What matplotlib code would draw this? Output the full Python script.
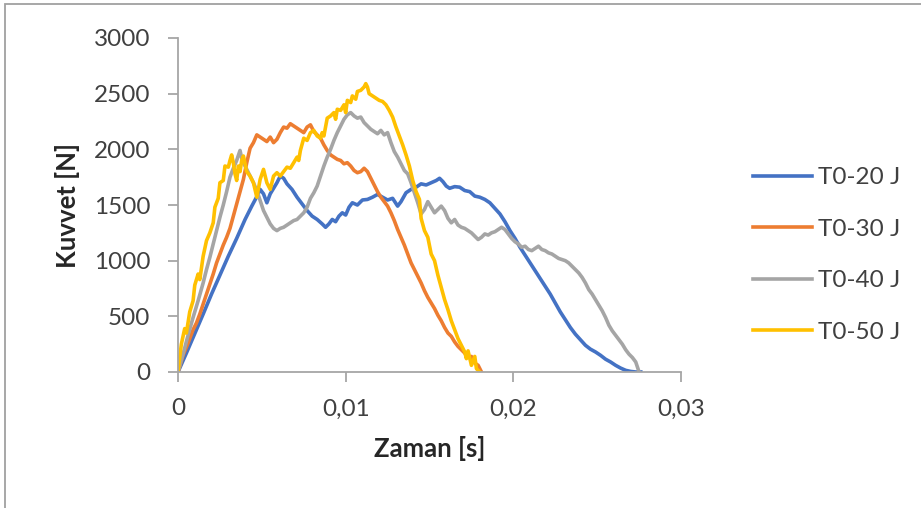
import matplotlib
matplotlib.use('Agg')
import matplotlib.pyplot as plt
from matplotlib.patches import Rectangle
from matplotlib.ticker import FuncFormatter

plt.rcParams['font.family'] = ['Lato', 'DejaVu Sans']

# T0-20 J
t20 = [0, 0.0005, 0.0010, 0.0015, 0.0020, 0.0025, 0.0030, 0.0035, 0.0040, 0.0044,
       0.0047, 0.0049, 0.0051, 0.0053, 0.0055, 0.0057, 0.0059, 0.0061, 0.0063, 0.0065,
       0.0068, 0.0071, 0.0074, 0.0077, 0.0080, 0.0083, 0.0086, 0.0088, 0.0090, 0.0092,
       0.0094, 0.0096, 0.0098, 0.0100, 0.0102, 0.0104, 0.0107, 0.0110, 0.0113, 0.0116,
       0.0119, 0.0122, 0.0125, 0.0128, 0.0131, 0.0133, 0.0136, 0.0139, 0.0142, 0.0145,
       0.0148, 0.0151, 0.0154, 0.0156, 0.0158, 0.0160, 0.0162, 0.0165, 0.0168, 0.0171,
       0.0174, 0.0177, 0.0180, 0.0183, 0.0186, 0.0189, 0.0192, 0.0195, 0.0198, 0.0201,
       0.0204, 0.0207, 0.0210, 0.0213, 0.0216, 0.0219, 0.0222, 0.0225, 0.0228, 0.0231,
       0.0234, 0.0237, 0.0240, 0.0243, 0.0246, 0.0249, 0.0252, 0.0255, 0.0258, 0.0261,
       0.0264, 0.0267, 0.0270, 0.0273, 0.0276]
f20 = [0, 170, 345, 520, 700, 870, 1040, 1200, 1370, 1490,
       1575, 1640, 1600, 1520, 1600, 1650, 1700, 1760, 1740, 1690,
       1640, 1570, 1510, 1450, 1400, 1370, 1330, 1300, 1330, 1370,
       1350, 1400, 1430, 1410, 1480, 1520, 1500, 1545, 1550, 1570,
       1595, 1570, 1545, 1560, 1490, 1530, 1610, 1640, 1660, 1690,
       1680, 1700, 1720, 1740, 1710, 1670, 1650, 1665, 1660, 1630,
       1620, 1580, 1570, 1550, 1520, 1470, 1420, 1350, 1270, 1200,
       1120, 1050, 980, 910, 840, 770, 700, 620, 540, 470,
       400, 340, 290, 240, 205, 180, 150, 115, 90, 60,
       35, 15, 5, 0, 0]

# T0-30 J
t30 = [0, 0.0003, 0.0006, 0.0009, 0.0011, 0.0013, 0.0015, 0.0017, 0.0019, 0.0021,
       0.0023, 0.0025, 0.0027, 0.0029, 0.0031, 0.0033, 0.0035, 0.0037, 0.0039, 0.0041,
       0.0043, 0.0045, 0.0047, 0.0049, 0.0051, 0.0053, 0.0055, 0.0057, 0.0059, 0.0061,
       0.0063, 0.0065, 0.0067, 0.0069, 0.0071, 0.0073, 0.0075, 0.0077, 0.0079, 0.0081,
       0.0083, 0.0085, 0.0087, 0.0089, 0.0091, 0.0093, 0.0095, 0.0097, 0.0099, 0.0101,
       0.0103, 0.0105, 0.0107, 0.0109, 0.0111, 0.0113, 0.0115, 0.0117, 0.0119, 0.0121,
       0.0123, 0.0125, 0.0127, 0.0129, 0.0131, 0.0133, 0.0135, 0.0137, 0.0139, 0.0141,
       0.0143, 0.0145, 0.0147, 0.0149, 0.0151, 0.0153, 0.0155, 0.0157, 0.0159, 0.0161,
       0.0163, 0.0165, 0.0167, 0.0169, 0.0171, 0.0173, 0.0175, 0.0177, 0.0179, 0.0181]
f30 = [0, 150, 260, 380, 440, 520, 610, 700, 790, 880,
       980, 1060, 1140, 1210, 1290, 1400, 1510, 1620, 1730, 1880,
       2010, 2060, 2130, 2110, 2090, 2070, 2110, 2060, 2090, 2150,
       2200, 2190, 2230, 2210, 2190, 2170, 2150, 2200, 2220, 2160,
       2130, 2100, 2040, 1990, 1950, 1930, 1910, 1900, 1870, 1880,
       1850, 1810, 1790, 1800, 1830, 1800, 1740, 1680, 1620, 1570,
       1530, 1490, 1430, 1360, 1280, 1210, 1140, 1060, 980, 920,
       860, 800, 730, 670, 620, 570, 510, 460, 400, 350,
       320, 270, 230, 200, 170, 130, 140, 80, 60, 0]

# T0-40 J
t40 = [0, 0.0003, 0.0006, 0.0009, 0.0012, 0.0015, 0.0017, 0.0019, 0.0021, 0.0023,
       0.0025, 0.0027, 0.0029, 0.0031, 0.0033, 0.0035, 0.0037, 0.0038, 0.0039, 0.0041,
       0.0043, 0.0045, 0.0047, 0.0049, 0.0051, 0.0053, 0.0055, 0.0057, 0.0059, 0.0061,
       0.0063, 0.0065, 0.0067, 0.0069, 0.0071, 0.0073, 0.0075, 0.0077, 0.0079, 0.0081,
       0.0083, 0.0085, 0.0087, 0.0089, 0.0091, 0.0093, 0.0095, 0.0097, 0.0099, 0.0101,
       0.0103, 0.0105, 0.0107, 0.0109, 0.0111, 0.0113, 0.0115, 0.0117, 0.0119, 0.0121,
       0.0123, 0.0125, 0.0127, 0.0129, 0.0131, 0.0133, 0.0135, 0.0137, 0.0139, 0.0141,
       0.0143, 0.0145, 0.0147, 0.0149, 0.0151, 0.0153, 0.0155, 0.0157, 0.0159, 0.0161,
       0.0163, 0.0165, 0.0167, 0.0169, 0.0171, 0.0173, 0.0175, 0.0177, 0.0179, 0.0181,
       0.0183, 0.0185, 0.0187, 0.0189, 0.0191, 0.0193, 0.0195, 0.0197, 0.0199, 0.0201,
       0.0203, 0.0205, 0.0207, 0.0209, 0.0211, 0.0213, 0.0215, 0.0217, 0.0219, 0.0221,
       0.0223, 0.0225, 0.0227, 0.0229, 0.0231, 0.0233, 0.0235, 0.0237, 0.0239, 0.0241,
       0.0243, 0.0245, 0.0247, 0.0249, 0.0251, 0.0253, 0.0255, 0.0257, 0.0259, 0.0261,
       0.0263, 0.0265, 0.0267, 0.0269, 0.0271, 0.0273, 0.0275]
f40 = [0, 160, 330, 490, 640, 800, 920, 1030, 1150, 1270,
       1390, 1500, 1620, 1750, 1830, 1900, 1990, 1920, 1880, 1820,
       1760, 1700, 1630, 1540, 1450, 1390, 1330, 1290, 1270, 1290,
       1300, 1320, 1340, 1360, 1370, 1400, 1430, 1480, 1560, 1610,
       1670, 1760, 1850, 1930, 2000, 2080, 2150, 2210, 2270, 2310,
       2330, 2300, 2280, 2290, 2240, 2210, 2180, 2160, 2140, 2170,
       2130, 2150, 2060, 1980, 1930, 1870, 1810, 1780, 1700, 1610,
       1520, 1420, 1460, 1530, 1480, 1430, 1460, 1490, 1450, 1380,
       1340, 1370, 1320, 1300, 1290, 1270, 1250, 1220, 1190, 1210,
       1240, 1230, 1250, 1260, 1280, 1300, 1280, 1240, 1200, 1170,
       1150, 1120, 1130, 1100, 1090, 1110, 1130, 1100, 1090, 1070,
       1060, 1040, 1020, 1010, 1000, 980, 950, 920, 890, 850,
       800, 740, 700, 650, 600, 550, 490, 420, 370, 330,
       290, 250, 200, 160, 130, 90, 0]

# T0-50 J
t50 = [0, 0.0002, 0.0004, 0.0005, 0.0007, 0.0009, 0.0010, 0.0012, 0.0013, 0.0015,
       0.0017, 0.0019, 0.0021, 0.0022, 0.0024, 0.0025, 0.0027, 0.0028, 0.0030, 0.0031,
       0.0032, 0.0033, 0.0034, 0.0035, 0.0036, 0.0037, 0.0038, 0.0039, 0.0041, 0.0043,
       0.0045, 0.0047, 0.0048, 0.0049, 0.0051, 0.0052, 0.0053, 0.0055, 0.0056, 0.0057,
       0.0059, 0.0061, 0.0063, 0.0065, 0.0067, 0.0069, 0.0071, 0.0072, 0.0073, 0.0075,
       0.0077, 0.0079, 0.0081, 0.0083, 0.0085, 0.0086, 0.0087, 0.0089, 0.0091, 0.0093,
       0.0094, 0.0095, 0.0097, 0.0099, 0.0100, 0.0101, 0.0103, 0.0104, 0.0106, 0.0107,
       0.0109, 0.0111, 0.0112, 0.0113, 0.0114, 0.0116, 0.0118, 0.0120, 0.0122, 0.0124,
       0.0126, 0.0128, 0.0130, 0.0132, 0.0134, 0.0136, 0.0138, 0.0140, 0.0142, 0.0144,
       0.0145, 0.0147, 0.0149, 0.0151, 0.0153, 0.0155, 0.0157, 0.0159, 0.0161, 0.0163,
       0.0165, 0.0167, 0.0169, 0.0171, 0.0172, 0.0173, 0.0175, 0.0177, 0.0178, 0.0180]
f50 = [0, 250, 390, 350, 540, 640, 780, 880, 830, 1040,
       1180, 1250, 1340, 1480, 1560, 1700, 1720, 1850, 1840, 1900,
       1950, 1880, 1780, 1720, 1850, 1800, 1900, 1940, 1800, 1760,
       1700, 1570, 1650, 1730, 1820, 1760, 1700, 1640, 1700, 1760,
       1790, 1760, 1800, 1840, 1830, 1880, 1930, 1900, 1990, 2100,
       2080, 2150, 2170, 2120, 2100, 2150, 2120, 2280, 2300, 2330,
       2270, 2360, 2350, 2400, 2330, 2440, 2420, 2480, 2450, 2520,
       2530, 2560, 2590, 2560, 2500, 2480, 2460, 2440, 2430, 2400,
       2350, 2290, 2200, 2120, 2040, 1950, 1850, 1720, 1620, 1550,
       1380, 1270, 1210, 1060, 1000, 870, 760, 650, 560, 460,
       380, 300, 240, 180, 120, 190, 60, 140, 30, 0]

labels = ['T0-20 J', 'T0-30 J', 'T0-40 J', 'T0-50 J']
colors = ['#4472C4', '#ED7D31', '#A5A5A5', '#FFC000']
xticks = [0, 0.01, 0.02, 0.03]
yticks = [0, 500, 1000, 1500, 2000, 2500, 3000]

fig = plt.figure(figsize=(9.21, 5.08), dpi=100)
ax = fig.add_axes([178/921, 1-372/508, (681-178)/921, (372-38)/508])

for t, f, lab, c in zip([t20, t30, t40, t50], [f20, f30, f40, f50], labels, colors):
    ax.plot(t, f, color=c, lw=2.6, label=lab, solid_joinstyle='round')

ax.set_xlim(0, 0.03)
ax.set_ylim(0, 3000)
ax.set_xticks(xticks)
ax.set_yticks(yticks)
ax.xaxis.set_major_formatter(FuncFormatter(lambda v, p: '0' if v == 0 else f'{v:.2f}'.replace('.', ',')))

axcol = '#a6a6a6'
for s in ['top', 'right']:
    ax.spines[s].set_visible(False)
for s in ['left', 'bottom']:
    ax.spines[s].set_color(axcol)
    ax.spines[s].set_linewidth(1.3)
ax.tick_params(axis='both', direction='out', length=7, width=1.3, color=axcol,
               labelsize=17.5, labelcolor='#404040')
ax.tick_params(axis='y', pad=13)
ax.tick_params(axis='x', pad=12)

ax.set_xlabel('Zaman [s]', fontsize=18.5, fontweight='bold', color='#262626', labelpad=12)
ax.set_ylabel('Kuvvet [N]', fontsize=18.5, fontweight='bold', color='#262626', labelpad=10)

ax.legend(loc='center left', bbox_to_anchor=(753/921, 1-255/508), bbox_transform=fig.transFigure,
          frameon=False, fontsize=17.5, handlelength=2.43, handletextpad=0.25,
          labelspacing=1.26, borderpad=0, borderaxespad=0, labelcolor='#404040')

# chart area border (cut off at right and bottom)
fig.patches.append(Rectangle((5/921, -0.1), 1.2, 1.1 - 4.5/508, transform=fig.transFigure,
                             fill=False, edgecolor='#a0a0a0', lw=1.3))

fig.savefig('out.png', dpi=100)
